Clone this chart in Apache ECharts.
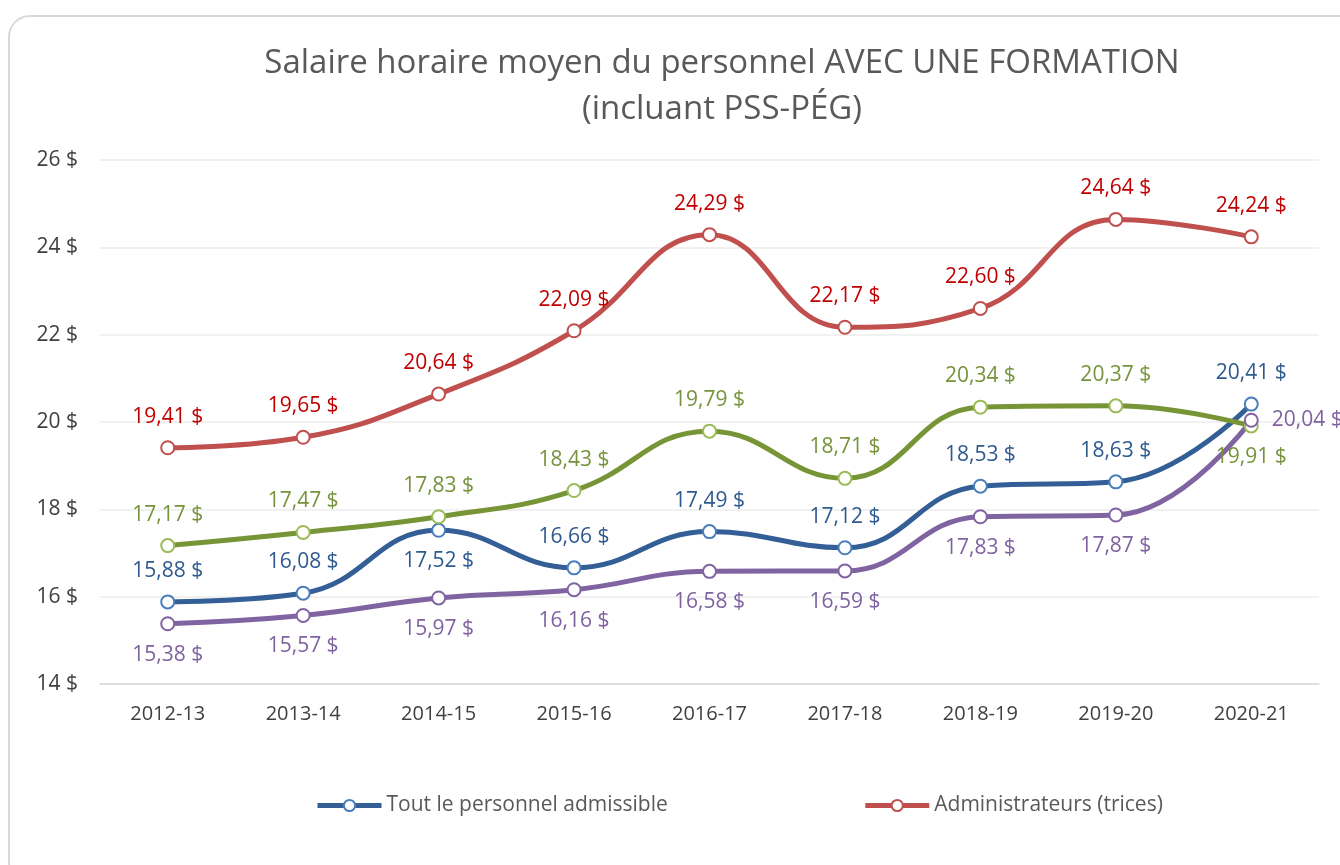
<!DOCTYPE html>
<html>
<head>
<meta charset="utf-8">
<script src="https://cdn.jsdelivr.net/npm/echarts@6/dist/echarts.min.js"></script>
<style>
  html, body { margin: 0; padding: 0; background: #fff; }
  #card { position: absolute; left: 8px; top: 15px; width: 1360px; height: 870px;
          border: 2px solid #d9d9d9; border-radius: 22px; box-sizing: border-box; }
  #myChart { position: absolute; left: 0; top: 0; width: 1340px; height: 865px; }
</style>
</head>
<body>
<div id="card"></div>
<div id="myChart"></div>
<script>
var categories = ['2012-13','2013-14','2014-15','2015-16','2016-17','2017-18','2018-19','2019-20','2020-21'];
var tout   = [15.88, 16.08, 17.52, 16.66, 17.49, 17.12, 18.53, 18.63, 20.41];
var admin  = [19.41, 19.65, 20.64, 22.09, 24.29, 22.17, 22.60, 24.64, 24.24];
var vert   = [17.17, 17.47, 17.83, 18.43, 19.79, 18.71, 20.34, 20.37, 19.91];
var violet = [15.38, 15.57, 15.97, 16.16, 16.58, 16.59, 17.83, 17.87, 20.04];
var yTicks = [14, 16, 18, 20, 22, 24, 26];

function fmt(v) { return v.toFixed(2).replace('.', ',') + ' $'; }

// position des étiquettes, point par point
function withPos(arr, pos) {
    return arr.map(function(v, i) {
        return { value: v, label: { position: pos(i) } };
    });
}

function serie(name, data, line, border, lab, defPos) {
    return {
        name: name,
        type: 'line',
        smooth: 0.45,
        data: data,
        symbol: 'circle',
        symbolSize: 13,
        lineStyle: { width: 5, color: line },
        itemStyle: { color: '#ffffff', borderColor: border, borderWidth: 2 },
        label: {
            show: true,
            position: defPos,
            distance: 13,
            color: lab,
            fontSize: 21,
            fontFamily: 'Open Sans',
            formatter: function(p) { return fmt(p.value); }
        }
    };
}

var myChart = echarts.init(document.getElementById('myChart'));
var option = {
    animation: false,
    title: {
        text: 'Salaire horaire moyen du personnel AVEC UNE FORMATION\n(incluant PSS-PÉG)',
        left: 717,
        textAlign: 'center',
        top: 36,
        textStyle: { color: '#595959', fontSize: 33, fontWeight: 'normal', fontFamily: 'Open Sans', lineHeight: 46 }
    },
    legend: {
        bottom: 44,
        left: 310,
        itemGap: 195,
        itemWidth: 64,
        itemHeight: 14,
        lineStyle: { width: 5 },
        textStyle: { color: '#595959', fontSize: 21, fontFamily: 'Open Sans' },
        data: ['Tout le personnel admissible', 'Administrateurs (trices)']
    },
    grid: { left: 100, right: 21, top: 160, bottom: 181 },
    xAxis: {
        type: 'category',
        data: categories,
        boundaryGap: true,
        axisLine: { lineStyle: { color: '#d9d9d9', width: 1.5 } },
        axisTick: { show: false },
        axisLabel: { color: '#404040', fontSize: 20, fontFamily: 'Open Sans', margin: 20 }
    },
    yAxis: {
        type: 'value',
        min: yTicks[0],
        max: yTicks[yTicks.length - 1],
        interval: 2,
        axisLine: { show: false },
        axisTick: { show: false },
        splitLine: { lineStyle: { color: '#ececec', width: 1.5 } },
        axisLabel: { color: '#404040', fontSize: 21, fontFamily: 'Open Sans', margin: 22,
                     formatter: function(v) { return v + ' $'; } }
    },
    series: [
        serie('Tout le personnel admissible',
              withPos(tout, function(i) { return i === 2 ? 'bottom' : 'top'; }),
              '#335F96', '#4A7EBB', '#2F5A8F', 'top'),
        serie('Administrateurs (trices)', admin, '#C0504D', '#C0504D', '#C00000', 'top'),
        serie('Vert',
              withPos(vert, function(i) { return i === 8 ? 'bottom' : 'top'; }),
              '#779537', '#9BBB59', '#77933C', 'top'),
        serie('Violet',
              withPos(violet, function(i) { return i === 8 ? 'right' : 'bottom'; }),
              '#8064A2', '#8064A2', '#7F63A1', 'bottom')
    ]
};
myChart.setOption(option);
</script>
</body>
</html>
